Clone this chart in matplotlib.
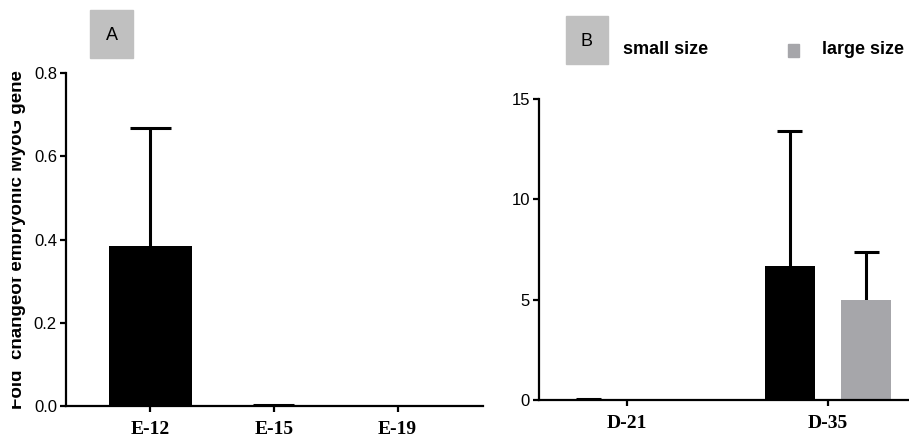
import numpy as np
import matplotlib
matplotlib.use('Agg')
import matplotlib.pyplot as plt
from matplotlib.patches import Rectangle
from matplotlib.transforms import Bbox

# panel A : embryonic stages
stages = ['E-12', 'E-15', 'E-19']
fold_a = [0.384, 0.001, 0.0]
err_a = [0.284, 0.002, 0.0]

# panel B : post-hatch days, two body sizes
days = ['D-21', 'D-35']
small_size = [0.02, 6.68]
small_err = [0.03, 6.72]
large_size = [0.0, 4.98]
large_err = [0.0, 2.39]

W, H = 909, 438
fig = plt.figure(figsize=(W/100, H/100), dpi=100)

sans = ['Liberation Sans', 'DejaVu Sans']
serif = ['Liberation Serif', 'DejaVu Serif']

def px_axes(l, t, r, b):
    return fig.add_axes([l/W, 1-b/H, (r-l)/W, (b-t)/H])

def style(ax):
    for s in ['top', 'right']:
        ax.spines[s].set_visible(False)
    for s in ['left', 'bottom']:
        ax.spines[s].set_linewidth(1.6)
    ax.tick_params(axis='both', width=1.6, length=4.5, direction='out')
    ax.tick_params(axis='y', pad=2)
    ax.tick_params(axis='x', pad=6)
    for t in ax.get_yticklabels():
        t.set_family(sans)
        t.set_fontsize(12)
    for t in ax.get_xticklabels():
        t.set_family(serif)
        t.set_fontsize(14)
        t.set_fontweight('bold')

def upper_err(ax, x, y, e, half):
    # one-sided error bar: stem from the bar top plus a cap
    x, y, e = np.asarray(x, float), np.asarray(y, float), np.asarray(e, float)
    ax.vlines(x, y, y + e, colors='black', linewidth=2.2, zorder=1)
    ax.hlines(y + e, x - half, x + half, colors='black', linewidth=2.2, zorder=1)

# ---------------- A ----------------
axA = px_axes(66, 73, 483, 406)
xa = np.arange(len(stages))
axA.bar(xa, fold_a, width=0.67, color='black', zorder=2)
upper_err(axA, xa[:2], fold_a[:2], err_a[:2], 0.165)
axA.set_xlim(-0.68, 2.69)
axA.set_ylim(0, 0.8)
axA.set_yticks([0.0, 0.2, 0.4, 0.6, 0.8])
axA.set_yticklabels(['0.0', '0.2', '0.4', '0.6', '0.8'])
axA.set_xticks(xa)
axA.set_xticklabels(stages)
style(axA)

# ---------------- B ----------------
axB = px_axes(539, 99, 909, 400)
xb = np.arange(len(days))
off, bw = 0.19, 0.25
axB.bar(xb - off, small_size, width=bw, color='black', zorder=2)
axB.bar(xb + off, large_size, width=bw, color='#a6a6aa', zorder=2)
upper_err(axB, xb - off, small_size, small_err, 0.062)
upper_err(axB, xb[1:] + off, large_size[1:], large_err[1:], 0.062)
axB.set_xlim(-0.438, 1.403)
axB.set_ylim(0, 15)
axB.set_yticks([0, 5, 10, 15])
axB.set_xticks(xb)
axB.set_xticklabels(days)
style(axB)

# y label of panel A (its left part is cut away)
yl = fig.text(26/W, 1-240/H, 'Fold  changeof embryonic MyoG gene', rotation=90,
              ha='right', va='center', fontsize=13.5, fontweight='bold', family=sans)
yl.set_clip_box(Bbox.from_extents(12, 0, W, H))
yl.set_clip_on(True)

# panel tags
for (l, t, r, b), tag in [((90, 10, 133, 58), 'A'), ((566, 16, 608, 64), 'B')]:
    fig.patches.append(Rectangle((l/W, 1-b/H), (r-l)/W, (b-t)/H,
                                 transform=fig.transFigure, color='#c0c0c0', zorder=3))
    fig.text((l+r)/2/W, 1-(t+b)/2/H - 2/H, tag, ha='center', va='center',
             fontsize=13, family=sans, zorder=4)

# legend of panel B
fig.patches.append(Rectangle((788/W, 1-57/H), 11/W, 13/H,
                             transform=fig.transFigure, color='#a6a6aa'))
fig.text(623/W, 1-50/H, 'small size', ha='left', va='center', fontsize=13,
         fontweight='bold', family=sans)
fig.text(822/W, 1-50/H, 'large size', ha='left', va='center', fontsize=13,
         fontweight='bold', family=sans)

fig.savefig('out.png', dpi=100)
